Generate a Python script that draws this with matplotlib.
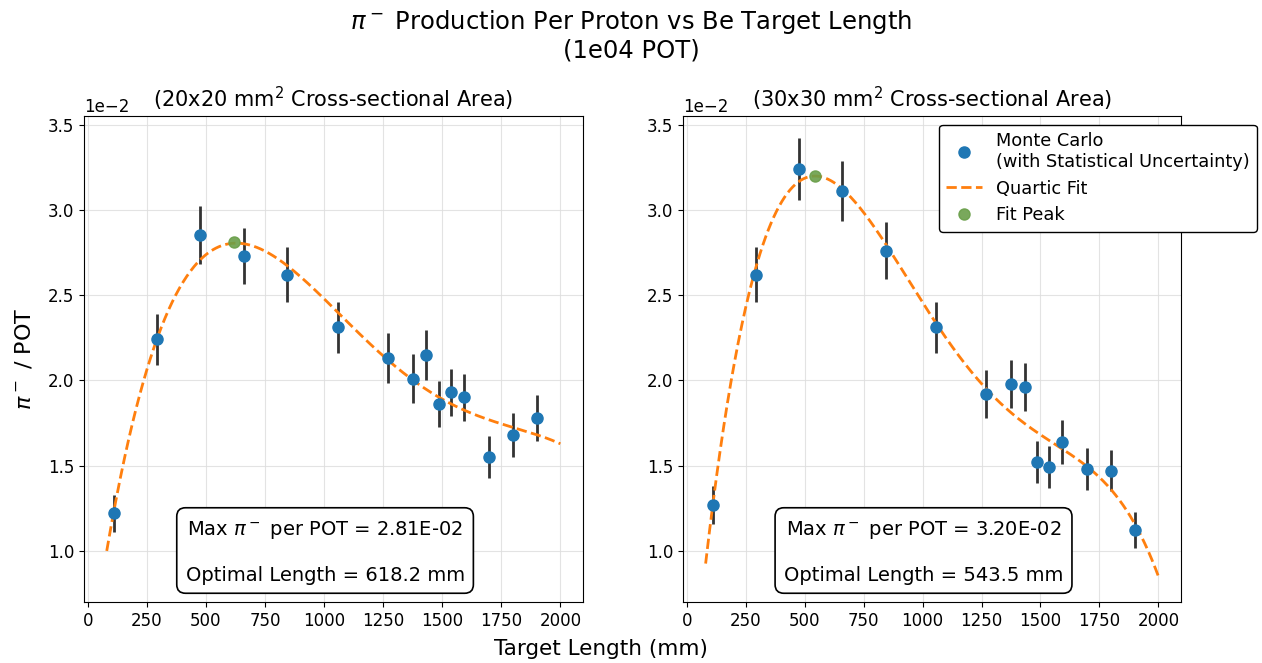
import numpy as np
import matplotlib
matplotlib.use("Agg")
import matplotlib.pyplot as plt

# Target lengths (mm), same for both cross sections
lengths = np.array([110, 292, 476, 660, 844, 1058, 1270, 1377, 1433, 1485, 1537, 1592, 1698, 1800, 1900])

# pi- per POT (units of 1e-2) and statistical uncertainty
yield_20 = np.array([1.22, 2.24, 2.85, 2.73, 2.62, 2.31, 2.13, 2.01, 2.15, 1.86, 1.93, 1.90, 1.55, 1.68, 1.78])
err_20 = np.array([0.11, 0.15, 0.17, 0.165, 0.16, 0.15, 0.145, 0.142, 0.147, 0.136, 0.139, 0.138, 0.125, 0.13, 0.133])

yield_30 = np.array([1.27, 2.62, 3.24, 3.11, 2.76, 2.31, 1.92, 1.98, 1.96, 1.52, 1.49, 1.64, 1.48, 1.47, 1.12])
err_30 = np.array([0.113, 0.162, 0.18, 0.176, 0.166, 0.152, 0.139, 0.141, 0.14, 0.123, 0.122, 0.128, 0.122, 0.121, 0.106])

# fit peaks as quoted on the chart
peak_len = [618.2, 543.5]
peak_val = [2.81, 3.20]

titles = ["(20x20 mm$^2$ Cross-sectional Area)", "(30x30 mm$^2$ Cross-sectional Area)"]
datasets = [(yield_20, err_20), (yield_30, err_30)]

plt.rcParams["font.size"] = 12

fig = plt.figure(figsize=(12.62, 6.63), dpi=100)
ax_l = fig.add_axes([0.0666, 0.092, 0.3954, 0.733])
ax_r = fig.add_axes([0.5412, 0.092, 0.3946, 0.733])

x_fit = np.linspace(80, 2000, 500)

for i, (ax, (y, e)) in enumerate(zip([ax_l, ax_r], datasets)):
    y = y * 1e-2
    e = e * 1e-2
    ax.errorbar(lengths, y, yerr=e, fmt="none", ecolor="#333333", elinewidth=2, zorder=2)
    ax.plot(lengths, y, "o", color="tab:blue", markersize=8, zorder=3,
            label="Monte Carlo\n(with Statistical Uncertainty)")
    # quartic fit weighted by the statistical errors
    coeffs = np.polyfit(lengths, y, 4, w=1 / e)
    ax.plot(x_fit, np.polyval(coeffs, x_fit), "--", color="tab:orange", lw=2,
            label="Quartic Fit", zorder=2)
    ax.plot(peak_len[i], peak_val[i] * 1e-2, "o", color="#6a9f4a", markersize=8,
            alpha=0.9, label="Fit Peak", zorder=4)
    ax.grid(True, color="#dddddd", alpha=0.8)
    ax.set_ylim(0.7e-2, 3.55e-2)
    ax.set_xticks(np.arange(0, 2001, 250))
    ax.set_title(titles[i], fontsize=15, pad=6)
    ax.ticklabel_format(axis="y", style="sci", scilimits=(-2, -2))
    ax.text(0.483, 0.036,
            f"Max $\\pi^-$ per POT = {peak_val[i] * 1e-2:.2E}\n\nOptimal Length = {peak_len[i]:.1f} mm",
            transform=ax.transAxes, ha="center", va="bottom", fontsize=14,
            bbox=dict(boxstyle="round,pad=0.45", facecolor="white", edgecolor="black", lw=1.2))

ax_l.set_ylabel("$\\pi^-$ / POT", fontsize=16, labelpad=10)
ax_r.legend(loc="upper right", bbox_to_anchor=(1.17, 1.0), fontsize=12.75,
            edgecolor="black", fancybox=True, framealpha=1)

fig.text(0.476, 0.012, "Target Length (mm)", ha="center", fontsize=15.5)
fig.suptitle("$\\pi^-$ Production Per Proton vs Be Target Length\n(1e04 POT)",
             fontsize=17.5, y=0.988, linespacing=1.15)

fig.savefig("out.png", dpi=100)
